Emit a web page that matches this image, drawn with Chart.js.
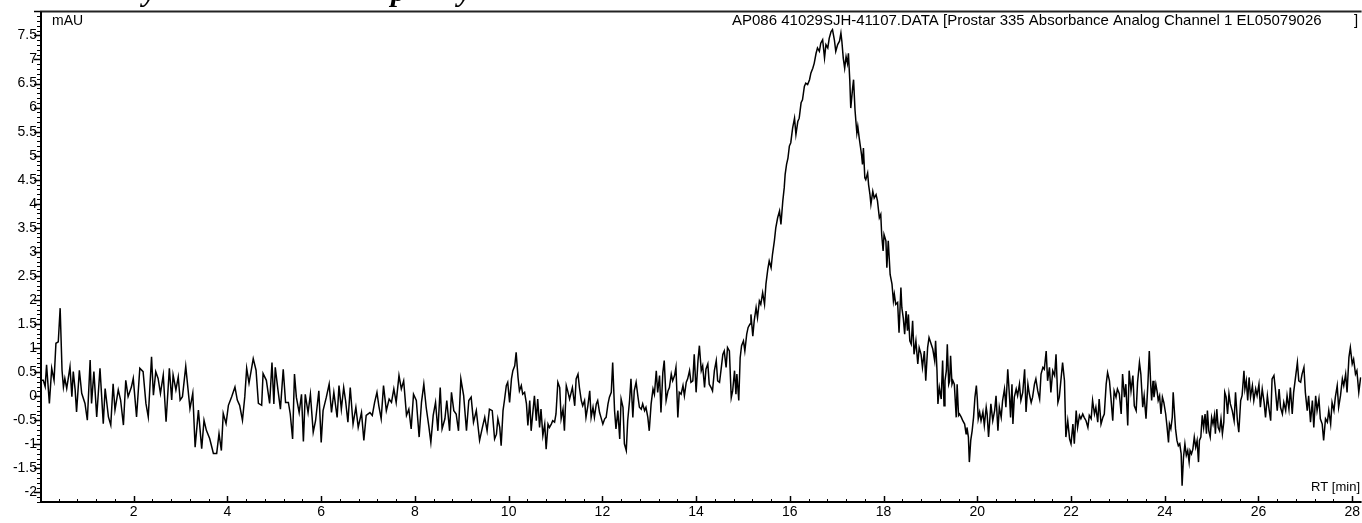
<!DOCTYPE html>
<html>
<head>
<meta charset="utf-8">
<script src="https://cdn.jsdelivr.net/npm/chart.js@4"></script>
<style>
  html, body { margin: 0; padding: 0; background: #fff; }
  #chrom { display: block; }
</style>
</head>
<body>
<canvas id="chrom" width="1362" height="523"></canvas>
<script>
// tick labels
const xTickValues = [2, 4, 6, 8, 10, 12, 14, 16, 18, 20, 22, 24, 26, 28];
const yTickValues = [-2, -1.5, -1, -0.5, 0, 0.5, 1, 1.5, 2, 2.5, 3, 3.5, 4, 4.5, 5, 5.5, 6, 6.5, 7, 7.5];

// trace, [RT min, mAU]
const leadIn = [
  [0.00,0.33],[0.07,0.33],[0.11,0.20],[0.14,0.65],[0.20,-0.15],[0.25,0.58],[0.30,0.33],[0.34,1.10],[0.39,1.13],[0.43,1.83],
  [0.47,0.54],[0.50,0.19],[0.53,0.37],[0.57,0.16],[0.64,0.61],[0.68,-0.01],[0.71,0.51],[0.75,0.13],[0.78,-0.33],[0.84,0.54],
  [0.89,0.06],[0.96,-0.15],[1.01,-0.50],[1.07,0.75],[1.10,-0.15],[1.15,0.51],[1.21,-0.43],[1.28,0.58],[1.35,-0.57],[1.39,0.16],
  [1.46,-0.43],[1.51,-0.60],[1.56,0.26],[1.60,-0.29],[1.67,0.13],[1.72,-0.08],[1.78,-0.60],[1.83,0.33],[1.88,-0.01],[1.95,0.19],
  [1.99,0.37],[2.06,-0.43],[2.13,0.58],[2.20,0.51],[2.26,-0.15],[2.31,-0.43],[2.38,0.82],[2.42,0.02],[2.47,0.51],[2.52,0.37],
  [2.57,0.06],[2.63,0.44],[2.69,-0.53],[2.76,0.58],[2.81,-0.08],[2.84,0.44],[2.90,0.13],[2.95,0.40],[2.99,-0.08],[3.04,-0.01],
  [3.11,0.62],[3.16,0.13],[3.20,-0.26],[3.26,0.06],[3.31,-1.06],[3.38,-0.29],[3.45,-1.09],[3.50,-0.50],[3.55,-0.71],[3.62,-0.88],
  [3.70,-1.19],[3.77,-1.19],[3.82,-0.78],[3.87,-1.13],[3.91,-0.36],[3.97,-0.57],[4.02,-0.19],[4.09,-0.01],[4.16,0.19],[4.21,-0.08],
  [4.26,-0.19],[4.32,-0.50],[4.37,-0.01],[4.41,0.58],[4.46,0.27],[4.55,0.78],[4.61,0.54],[4.66,-0.15],[4.73,-0.19],[4.76,0.47],
  [4.83,0.33],[4.90,-0.15]
];
const baselineA = [
  [4.95,0.70],[4.99,-0.16],[5.02,0.60],[5.08,0.11],[5.13,-0.27],[5.19,0.56],[5.24,-0.13],[5.30,-0.13],[5.34,-0.37],[5.39,-0.89],
  [5.43,0.46],[5.47,-0.02],[5.53,-0.34],[5.58,0.04],[5.62,-0.94],[5.66,0.04],[5.72,-0.34],[5.77,0.04],[5.83,-0.75],[5.88,-0.51],
  [5.95,0.11],[6.00,-0.96],[6.04,-0.30],[6.11,-0.02],[6.17,0.25],[6.22,-0.34],[6.27,0.08],[6.34,-0.44],[6.38,0.22],[6.43,-0.27],
  [6.48,0.18],[6.52,-0.09],[6.57,-0.54],[6.62,0.18],[6.68,-0.58],[6.74,-0.23],[6.79,-0.65],[6.86,-0.34],[6.91,-0.92],[6.96,-0.40],
  [7.04,-0.34],[7.09,-0.40],[7.14,-0.13],[7.19,0.08],[7.23,-0.20],[7.28,-0.47],[7.33,0.22],[7.39,-0.30],[7.45,-0.06],[7.50,-0.13],
  [7.55,0.15],[7.60,-0.13],[7.66,0.43],[7.71,0.15],[7.76,0.32],[7.82,-0.40],[7.87,-0.27],[7.92,-0.68],[7.97,0.04],[8.03,-0.09],
  [8.09,-0.85],[8.14,-0.13],[8.19,0.25],[8.24,-0.23],[8.30,-0.65],[8.34,-0.96],[8.39,-0.40],[8.44,-0.13],[8.49,-0.72],[8.54,0.18],
  [8.58,-0.68],[8.64,-0.47],[8.68,-0.09],[8.74,-0.72],[8.78,0.08],[8.83,-0.30],[8.88,-0.37],[8.93,-0.72],[8.98,0.36],[9.04,0.01],
  [9.10,-0.72],[9.15,-0.09],[9.20,-0.02],[9.25,-0.54],[9.31,-0.30],[9.38,-0.92],[9.44,-0.65],[9.49,-0.44],[9.54,-0.72],[9.59,-0.27]
];
const baselineB = [
  [9.65,-0.30],[9.70,-0.89],[9.74,-0.79],[9.77,-0.47],[9.81,-0.65],[9.84,-1.03],[9.88,-0.30],[9.91,-0.09],[9.95,0.22],[9.98,0.29],
  [10.02,-0.13],[10.06,0.36],[10.09,0.53],[10.13,0.63],[10.16,0.91],[10.20,0.39],[10.23,0.11],[10.27,0.22],[10.30,0.04],[10.34,0.08],
  [10.38,-0.16],[10.41,-0.61],[10.45,-0.09],[10.48,-0.72],[10.52,-0.30],[10.55,0.01],[10.59,-0.51],[10.62,-0.06],[10.66,-0.65],[10.69,-0.27],
  [10.73,-0.82],[10.77,-0.58],[10.80,-1.10],[10.84,-0.58],[10.87,-0.65],[10.91,-0.58],[10.94,-0.51],[10.98,-0.54],[11.01,-0.37],[11.05,0.29],
  [11.09,0.18],[11.12,-0.47],[11.16,-0.27],[11.19,-0.72],[11.23,0.22],[11.26,0.11],[11.30,-0.06],[11.36,0.18],[11.41,-0.20],[11.44,0.36],
  [11.48,0.46],[11.51,0.18],[11.55,-0.09],[11.58,-0.20],[11.62,-0.09],[11.65,-0.44],[11.69,-0.20],[11.73,0.11],[11.76,-0.44],[11.80,-0.23],
  [11.83,-0.44],[11.87,-0.16],[11.90,-0.09],[11.94,-0.34],[11.97,-0.44],[12.01,-0.58],[12.05,-0.47],[12.08,-0.44],[12.12,-0.16],[12.15,-0.02],
  [12.19,0.08],[12.22,0.70],[12.26,-0.30],[12.29,-0.68],[12.33,-0.30],[12.37,-0.89],[12.40,-0.06],[12.44,-0.23],[12.47,-0.99],[12.51,-1.13],
  [12.54,-0.51],[12.58,-0.09],[12.61,0.36],[12.65,-0.44],[12.68,0.11],[12.72,0.29],[12.76,-0.02],[12.79,-0.23],[12.83,-0.27],[12.86,-0.16],
  [12.90,-0.30],[12.93,-0.23],[12.97,-0.44],[13.00,-0.72],[13.04,-0.16],[13.08,0.15],[13.11,0.04],[13.15,0.53],[13.18,0.08],[13.22,0.43],
  [13.25,-0.34],[13.29,0.49],[13.32,0.74],[13.36,-0.09],[13.40,0.11],[13.43,0.18],[13.47,0.46],[13.50,0.32],[13.54,0.43],[13.57,0.60],
  [13.61,-0.44],[13.64,0.08],[13.68,0.04],[13.72,0.22],[13.75,0.01],[13.79,0.29],[13.82,0.36],[13.86,0.53],[13.89,0.29],[13.93,0.32],
  [13.96,0.87],[14.00,0.08],[14.04,0.74],[14.07,1.05],[14.11,0.53],[14.14,0.63],[14.18,0.18],[14.21,0.56],[14.25,0.67],[14.28,0.25]
];
const mainPeak = [
  [14.32,0.18],[14.35,0.11],[14.39,0.53],[14.43,0.74],[14.46,0.32],[14.50,0.29],[14.53,0.53],[14.57,0.87],[14.60,0.94],[14.64,0.60],
  [14.67,1.01],[14.71,0.94],[14.75,-0.03],[14.78,0.11],[14.82,0.53],[14.85,0.04],[14.87,0.46],[14.91,-0.09],[14.94,0.80],[14.97,1.05],
  [15.01,1.15],[15.04,0.94],[15.08,1.29],[15.11,1.43],[15.15,1.50],[15.17,1.70],[15.21,1.25],[15.24,1.57],[15.28,1.84],[15.31,1.63],
  [15.35,1.98],[15.38,1.91],[15.42,2.15],[15.46,1.91],[15.49,2.33],[15.53,2.64],[15.56,2.81],[15.60,2.67],[15.63,2.95],[15.67,3.23],
  [15.70,3.50],[15.74,3.71],[15.78,3.85],[15.81,3.57],[15.85,4.06],[15.88,4.33],[15.90,4.61],[15.93,4.82],[15.96,4.95],[15.99,5.20],
  [16.02,5.27],[16.06,5.58],[16.10,5.78],[16.13,5.44],[16.17,5.71],[16.20,5.78],[16.24,6.10],[16.27,6.16],[16.31,6.44],[16.34,6.51],
  [16.38,6.48],[16.42,6.58],[16.45,6.72],[16.49,6.82],[16.52,6.92],[16.56,7.13],[16.59,7.24],[16.63,7.17],[16.66,7.34],[16.70,7.41],
  [16.74,7.03],[16.77,7.31],[16.81,7.24],[16.84,7.44],[16.88,7.58],[16.91,7.62],[16.95,7.41],[16.98,7.17],[17.02,7.31],[17.06,7.38],
  [17.09,7.55],[17.11,7.38],[17.14,7.03],[17.17,6.82],[17.20,7.06],[17.23,6.92],[17.25,7.13],[17.28,6.55],[17.30,5.99],[17.34,6.41],
  [17.36,6.58],[17.39,5.96],[17.41,5.71],[17.43,5.47],[17.45,5.61],[17.48,5.37],[17.51,5.16],[17.53,5.02],[17.55,4.82],[17.57,5.16],
  [17.60,4.54],[17.62,4.50],[17.66,4.64],[17.68,4.40],[17.71,4.19],[17.73,3.99],[17.77,4.26],[17.80,4.12],[17.84,4.19],[17.87,4.06],
  [17.91,3.71],[17.94,3.78],[17.96,3.36],[17.99,3.02],[18.01,3.36],[18.05,3.23],[18.07,2.67],[18.10,3.23],[18.14,2.53],[18.18,2.33],
  [18.21,1.98],[18.23,2.12],[18.26,1.91],[18.30,1.95],[18.33,1.32],[18.37,2.26],[18.39,1.84],[18.42,1.63],[18.45,1.29],[18.48,1.77],
  [18.51,1.36],[18.53,1.70],[18.56,1.15],[18.59,1.08],[18.62,1.57],[18.65,0.87],[18.69,1.15],[18.73,0.67],[18.76,1.01],[18.80,0.87],
  [18.83,0.60],[18.87,0.94],[18.90,0.32],[18.94,1.01],[18.97,1.22]
];
const tailA = [
  [19.05,0.98],[19.09,0.74],[19.11,1.15],[19.14,0.53],[19.16,-0.16],[19.19,0.18],[19.23,-0.06],[19.26,0.74],[19.29,-0.20],[19.31,0.32],
  [19.34,0.53],[19.36,1.08],[19.39,0.25],[19.41,0.32],[19.43,0.84],[19.46,0.25],[19.48,0.32],[19.51,0.25],[19.55,-0.44],[19.57,0.25],
  [19.60,-0.40],[19.62,-0.37],[19.66,-0.44],[19.69,-0.51],[19.73,-0.58],[19.76,-0.78],[19.78,-0.65],[19.81,-0.85],[19.83,-1.37],[19.86,-0.92],
  [19.89,-0.72],[19.92,-0.44],[19.95,-0.02],[19.98,0.22],[20.00,-0.06],[20.02,-0.47],[20.05,-0.33],[20.08,-0.51],[20.12,-0.33],[20.15,-0.61],
  [20.19,-0.23],[20.21,-0.37],[20.24,-0.85],[20.26,-0.58],[20.29,-0.16],[20.33,-0.51],[20.37,-0.30],[20.40,0.01],[20.44,-0.72],[20.47,-0.23],
  [20.51,-0.44],[20.54,-0.09],[20.58,0.15],[20.61,-0.23],[20.65,0.56],[20.69,-0.06],[20.71,-0.44],[20.74,0.25],[20.76,-0.58],[20.79,-0.02],
  [20.83,0.15],[20.86,0.01],[20.90,0.25],[20.93,-0.09],[20.97,0.08],[21.01,0.56],[21.04,-0.33],[21.08,0.25],[21.11,0.05],[21.15,-0.13],
  [21.18,-0.02],[21.22,0.25],[21.25,0.36],[21.29,0.11],[21.33,-0.06],[21.36,0.46],[21.40,0.60],[21.43,0.56],[21.47,0.94],[21.50,0.32],
  [21.54,0.60],[21.57,0.08],[21.61,0.53],[21.65,0.43],[21.68,0.87],[21.72,-0.13],[21.75,-0.02],[21.79,0.39],[21.82,0.70],[21.86,0.32],
  [21.89,-0.85],[21.93,-0.51],[21.97,-0.89],[22.00,-0.99],[22.04,-0.58],[22.07,-0.99],[22.11,-0.30],[22.14,-0.65],[22.18,-0.40],[22.21,-0.47],
  [22.25,-0.37],[22.28,-0.44],[22.32,-0.51],[22.36,-0.65],[22.39,-0.40],[22.43,-0.47],[22.46,-0.09],[22.50,-0.37],[22.53,-0.23],[22.57,-0.54],
  [22.60,-0.06],[22.64,-0.58],[22.68,-0.44],[22.71,-0.37],[22.75,0.25],[22.78,0.49],[22.82,0.32],[22.85,-0.02],[22.89,-0.51],[22.92,0.11],
  [22.96,-0.02],[22.99,0.15],[23.03,0.05],[23.07,-0.37],[23.10,0.46],[23.14,-0.02],[23.17,0.25],[23.21,-0.61],[23.24,0.53],[23.28,0.11],
  [23.32,0.43],[23.35,-0.20],[23.39,-0.30],[23.42,0.29],[23.46,0.70],[23.49,0.46],[23.53,-0.23],[23.56,0.01],[23.60,-0.47],[23.64,0.25],
  [23.67,0.94]
];
const tailB = [
  [23.70,0.25],[23.72,-0.09],[23.75,0.32],[23.77,-0.02],[23.81,0.25],[23.84,0.08],[23.86,-0.09],[23.89,0.01],[23.92,-0.37],[23.95,-0.02],
  [23.98,-0.13],[24.02,-0.37],[24.05,-0.65],[24.08,-0.96],[24.10,-0.58],[24.13,-0.68],[24.16,-0.44],[24.18,0.08],[24.20,-0.23],[24.23,-0.68],
  [24.26,-0.92],[24.29,-1.03],[24.32,-0.99],[24.35,-1.20],[24.37,-1.86],[24.40,-1.27],[24.43,-0.99],[24.46,-1.23],[24.49,-1.13],[24.52,-1.37],
  [24.54,-1.13],[24.57,-1.20],[24.60,-1.10],[24.63,-0.85],[24.66,-1.06],[24.69,-0.92],[24.72,-1.37],[24.74,-0.92],[24.77,-0.85],[24.80,-0.40],
  [24.83,-0.65],[24.86,-0.37],[24.89,-0.78],[24.91,-0.30],[24.94,-0.72],[24.97,-0.85],[25.00,-0.44],[25.03,-0.58],[25.06,-0.40],[25.08,-0.78],
  [25.11,-0.27],[25.14,-0.65],[25.17,-0.72],[25.20,-0.47],[25.23,-0.78],[25.26,-0.54],[25.28,0.08],[25.31,-0.02],[25.34,-0.37],[25.37,0.05],
  [25.40,-0.16],[25.44,-0.30],[25.48,-0.51],[25.51,0.08],[25.55,-0.51],[25.58,-0.75],[25.62,-0.09],[25.65,0.01],[25.69,0.53],[25.71,0.15],
  [25.74,0.32],[25.77,-0.09],[25.80,0.39],[25.83,-0.02],[25.87,0.22],[25.90,-0.09],[25.94,0.15],[25.97,0.01],[26.01,0.25],[26.04,-0.23],
  [26.08,0.15],[26.12,-0.13],[26.15,-0.44],[26.19,0.01],[26.22,-0.23],[26.26,-0.51],[26.29,0.36],[26.33,0.43],[26.36,0.15],[26.40,-0.30],
  [26.44,0.15],[26.47,-0.23],[26.51,-0.37],[26.54,-0.13],[26.58,-0.30],[26.61,0.01],[26.65,-0.27],[26.68,0.18],[26.72,-0.37],[26.75,0.08],
  [26.79,0.39],[26.83,0.70],[26.86,0.32],[26.90,0.29],[26.93,0.46],[26.97,0.60],[27.00,0.08],[27.04,-0.30],[27.07,0.01],[27.11,-0.54],
  [27.15,-0.09],[27.18,-0.65],[27.22,0.01],[27.25,-0.30],[27.29,-0.06],[27.32,-0.47],[27.36,-0.58],[27.39,-0.92],[27.43,-0.47],[27.47,-0.54],
  [27.50,-0.30],[27.54,-0.58],[27.57,-0.13],[27.61,-0.30],[27.64,-0.02],[27.68,0.22],[27.71,-0.23],[27.75,0.01],[27.79,0.36],[27.82,0.22],
  [27.86,0.46],[27.89,0.08],[27.93,0.81],[27.96,1.01],[28.00,0.67],[28.03,0.77],[28.07,0.46],[28.10,0.53],[28.14,0.08],[28.18,0.39]
];

const X_MIN = 0, X_MAX = 28.2;
const Y_MIN = -2.2, Y_MAX = 8.0;
const FONT = '"Liberation Sans", Arial, sans-serif';

const trace = [...leadIn, ...baselineA, ...baselineB, ...mainPeak, ...tailA, ...tailB]
  .map(([t, v]) => ({ x: t, y: v }));

// axes frame, minor/major tick marks and the header texts
const framePlugin = {
  id: 'frame',
  afterDraw(chart) {
    const { ctx, chartArea: a, scales: { x, y } } = chart;
    ctx.save();
    ctx.strokeStyle = '#000';

    // y ticks every 0.1, pointing out to the left
    for (let i = Math.ceil(Y_MIN * 10); i <= Math.floor(Y_MAX * 10); i++) {
      const py = Math.round(y.getPixelForValue(i / 10)) + 0.5;
      const major = i % 5 === 0;
      ctx.lineWidth = major ? 1.5 : 1;
      ctx.beginPath();
      ctx.moveTo(a.left - (major ? 6 : 3), py);
      ctx.lineTo(a.left, py);
      ctx.stroke();
    }
    // x ticks every 0.4, pointing up into the plot
    for (let i = 1; i * 0.4 <= X_MAX; i++) {
      const px = Math.round(x.getPixelForValue(i * 0.4)) + 0.5;
      const major = i % 5 === 0;
      ctx.lineWidth = major ? 1.5 : 1;
      ctx.beginPath();
      ctx.moveTo(px, a.bottom);
      ctx.lineTo(px, a.bottom - (major ? 6 : 3));
      ctx.stroke();
    }

    ctx.lineWidth = 2;
    ctx.strokeStyle = '#222';
    ctx.beginPath();
    ctx.moveTo(a.left, a.top); ctx.lineTo(a.right, a.top);
    ctx.stroke();
    ctx.strokeStyle = '#000';
    ctx.beginPath();
    ctx.moveTo(a.left + 1, a.top); ctx.lineTo(a.left + 1, a.bottom + 1);
    ctx.moveTo(a.left, a.bottom); ctx.lineTo(a.right, a.bottom);
    ctx.stroke();

    ctx.fillStyle = '#000';
    ctx.textBaseline = 'middle';
    ctx.textAlign = 'left';
    ctx.font = '14px ' + FONT;
    ctx.fillText('mAU', 52, 21);
    ctx.font = '15px ' + FONT;
    ctx.fillText('AP086 41029SJH-41107.DATA [Prostar 335 Absorbance Analog Channel 1 EL05079026', 732, 21);
    ctx.fillText(']', 1354, 21);
    ctx.font = '13px ' + FONT;
    ctx.textAlign = 'right';
    ctx.fillText('RT [min]', 1360, 487);

    // title above the picture, only its descenders show
    ctx.font = 'bold italic 30px "Liberation Serif", "Times New Roman", serif';
    ctx.textAlign = 'left';
    ctx.textBaseline = 'alphabetic';
    ctx.fillText('y', 143, 1);
    ctx.fillText('p', 391, 1);
    ctx.fillText('y', 458, 1);
    ctx.restore();
  }
};

new Chart(document.getElementById('chrom'), {
  type: 'scatter',
  data: {
    datasets: [{
      data: trace,
      showLine: true,
      borderColor: '#000',
      borderWidth: 1.5,
      pointRadius: 0,
      tension: 0
    }]
  },
  options: {
    responsive: false,
    animation: false,
    layout: { padding: { top: 9, right: 0, bottom: 0, left: 0 } },
    plugins: { legend: { display: false }, tooltip: { enabled: false } },
    scales: {
      x: {
        type: 'linear',
        min: X_MIN,
        max: X_MAX,
        afterBuildTicks: s => { s.ticks = xTickValues.map(v => ({ value: v })); },
        afterFit: s => { s.height = 21; },
        grid: { display: false, drawTicks: false },
        border: { display: false },
        ticks: {
          color: '#000',
          font: { family: FONT, size: 14 },
          padding: 2,
          maxRotation: 0,
          autoSkip: false,
          callback: v => String(v)
        }
      },
      y: {
        min: Y_MIN,
        max: Y_MAX,
        afterBuildTicks: s => { s.ticks = yTickValues.map(v => ({ value: v })); },
        afterFit: s => { s.width = 40; },
        grid: { display: false, drawTicks: false },
        border: { display: false },
        ticks: {
          color: '#000',
          font: { family: FONT, size: 14 },
          padding: 3,
          autoSkip: false,
          callback: v => String(v)
        }
      }
    }
  },
  plugins: [framePlugin]
});
</script>
</body>
</html>
